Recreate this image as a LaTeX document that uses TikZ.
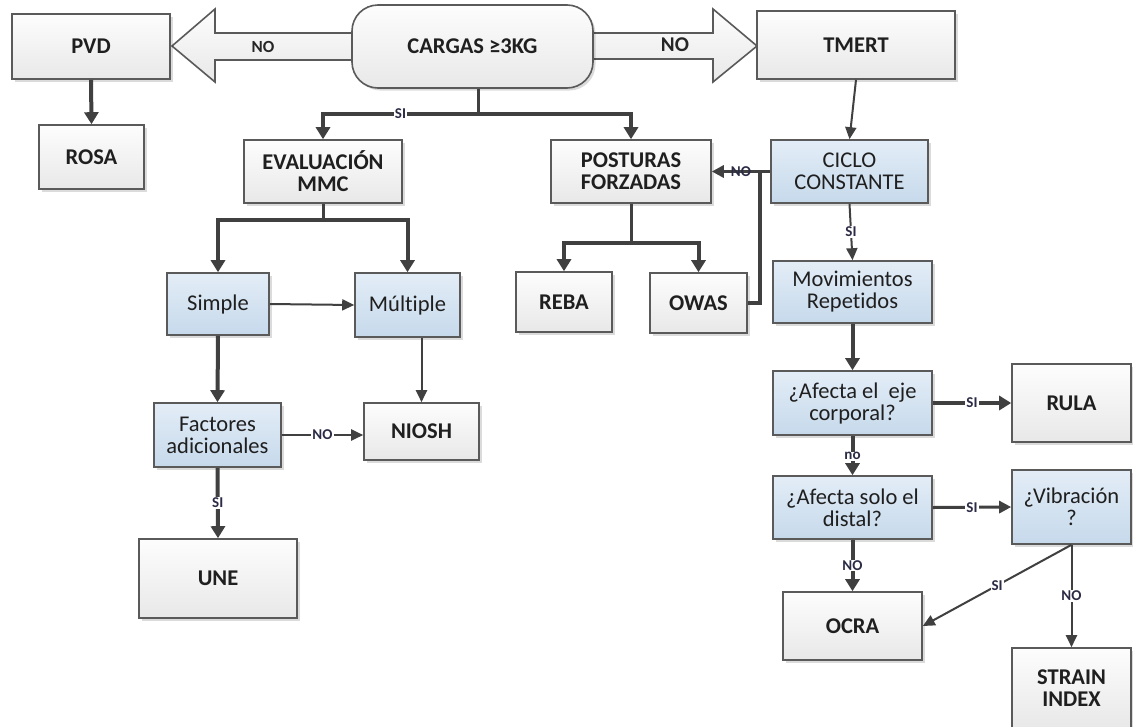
\documentclass[tikz,border=0pt]{standalone}
\usepackage{fontspec}
\setmainfont[Ligatures={NoCommon}]{Carlito}
\usetikzlibrary{arrows.meta,shadows}
\definecolor{ln}{HTML}{404040}
\definecolor{bd}{HTML}{5A5A5A}
\definecolor{gtop}{HTML}{FDFDFD}
\definecolor{gbot}{HTML}{E8E8E8}
\definecolor{btop}{HTML}{E3EDF7}
\definecolor{bbot}{HTML}{C6D9EB}
\definecolor{lbl}{HTML}{2B2B45}
\tikzset{
 box/.style={draw=bd, line width=1.6pt, top color=gtop, bottom color=gbot,
   font=\fontsize{22.5}{22}\selectfont\bfseries, text=black!88, align=center, inner sep=2pt,
   drop shadow={shadow xshift=2.5pt,shadow yshift=-2.5pt,opacity=0.14,fill=black}},
 bbox/.style={box, top color=btop, bottom color=bbot, font=\fontsize{22.5}{22}\selectfont},
 thk/.style={draw=ln, line width=4pt, -{Triangle[width=14pt,length=12pt]}},
 thn/.style={draw=ln, line width=2pt, -{Triangle[width=11pt,length=12pt]}},
 mdarr/.style={draw=ln, line width=3pt, -{Triangle[width=12pt,length=12pt]}},
 thkline/.style={draw=ln, line width=4pt},
 mdline/.style={draw=ln, line width=3pt},
 lab/.style={font=\fontsize{15}{15}\selectfont\bfseries, text=lbl, fill=white, inner sep=1pt},
 bigarrow/.style={draw=bd, line width=1.6pt, top color=gtop, bottom color=gbot},
}
\begin{document}
\begin{tikzpicture}[x=1pt,y=-1pt]
\useasboundingbox (0,0) rectangle (1133,726);
\clip (0,0) rectangle (1133,726);
\fill[white] (0,0) rectangle (1133,726);
% block arrows
\draw[bigarrow] (352,33) -- (215,33) -- (215,9) -- (172,46) -- (215,82) -- (215,60) -- (352,60) -- cycle;
\draw[bigarrow] (593,33) -- (713,33) -- (713,9) -- (757,46) -- (713,82) -- (713,59) -- (593,59) -- cycle;
\node[font=\fontsize{17}{17}\selectfont\bfseries, text=black!85] (noL) at (263,47) {NO};
\node[font=\fontsize{21}{21}\selectfont\bfseries, text=black!85] (noR) at (675,45) {NO};
% nodes
\node[box, minimum width=158pt, minimum height=65pt] (PVD) at (91,46.5) {PVD};
\node[box, minimum width=105pt, minimum height=64pt] (ROSA) at (91.5,157) {ROSA};
\node[box, rounded corners=26pt, minimum width=241pt, minimum height=83pt] (CARGAS) at (472.5,46.5) {CARGAS ≥3KG};
\node[box, minimum width=198pt, minimum height=68pt] (TMERT) at (856,45) {TMERT};
\node[box, minimum width=158pt, minimum height=63pt] (EVAL) at (323,171.5) {EVALUACIÓN\\MMC};
\node[box, minimum width=160pt, minimum height=63pt] (POST) at (631,171.5) {POSTURAS\\FORZADAS};
\node[bbox, minimum width=157pt, minimum height=63pt] (CICLO) at (849.5,171.5) {CICLO\\CONSTANTE};
\node[bbox, minimum width=102pt, minimum height=62pt] (SIMPLE) at (218,304) {Simple};
\node[bbox, minimum width=105pt, minimum height=64pt] (MULT) at (407.5,305) {Múltiple};
\node[box, minimum width=96pt, minimum height=60pt] (REBA) at (564,302) {REBA};
\node[box, minimum width=97pt, minimum height=60pt] (OWAS) at (698.5,303) {OWAS};
\node[bbox, minimum width=159pt, minimum height=62pt] (MOV) at (852.5,292) {Movimientos\\Repetidos};
\node[bbox, minimum width=159pt, minimum height=64pt] (EJE) at (852.5,403) {¿Afecta el\ \ eje\\corporal?};
\node[box, minimum width=119pt, minimum height=78pt] (RULA) at (1071.5,403) {RULA};
\node[bbox, minimum width=159pt, minimum height=63pt] (DIST) at (852.5,507.5) {¿Afecta solo el\\distal?};
\node[bbox, minimum width=119pt, minimum height=74pt] (VIB) at (1071.5,507) {¿Vibración\\?};
\node[box, minimum width=139pt, minimum height=68pt] (OCRA) at (852.5,626) {OCRA};
\node[box, minimum width=119pt, minimum height=80pt] (STRAIN) at (1071.5,688) {STRAIN\\INDEX};
\node[bbox, minimum width=127pt, minimum height=64pt] (FACT) at (217.5,435) {Factores\\adicionales};
\node[box, minimum width=115pt, minimum height=57pt] (NIOSH) at (421.5,431.5) {NIOSH};
\node[box, minimum width=158pt, minimum height=79pt] (UNE) at (218,578.5) {UNE};
% coordinates
\coordinate (cs) at (478,114);
\coordinate (es) at (323,220);
\coordinate (ps) at (631,243);
\coordinate (jn) at (760,172);
% connectors
\draw[thk] (PVD.south) -- (ROSA.north);
\draw[mdline] (CARGAS.south -| cs) -- (cs);
\draw[thk] (cs) -| (EVAL.north) node[lab, pos=0.25] {SI};
\draw[thk] (cs) -| (POST.north);
\draw[thn] (TMERT.south) -- (CICLO.north);
\draw[mdline] (EVAL.south) -- (es);
\draw[thk] (es) -| (SIMPLE.north);
\draw[thk] (es) -| (MULT.north);
\draw[mdline] (POST.south) -- (ps);
\draw[thk] (ps) -| (REBA.north);
\draw[thk] (ps) -| (OWAS.north);
\draw[thkline] (OWAS.east) -| (jn);
\draw[mdarr] (CICLO.west) -- (POST.east) node[lab, fill=none, pos=0.5] {NO};
\draw[thn] (SIMPLE.east) -- (MULT.west);
\draw[thk] (SIMPLE.south) -- (FACT.north);
\draw[thn] (MULT.south -| NIOSH.north) -- (NIOSH.north);
\draw[thn] (FACT.east) -- (FACT.east -| NIOSH.west) node[lab, pos=0.5] {NO};
\draw[thk] (FACT.south) -- (UNE.north) node[lab, pos=0.5] {SI};
\draw[thn] (CICLO.south) -- (MOV.north) node[lab, pos=0.5] {SI};
\draw[thk] (MOV.south) -- (EJE.north);
\draw[thk] (EJE.east) -- (RULA.west) node[lab, pos=0.5] {SI};
\draw[thk] (EJE.south) -- (DIST.north) node[lab, pos=0.52] {no};
\draw[mdarr] (DIST.east) -- (VIB.west) node[lab, pos=0.5] {SI};
\draw[thk] (DIST.south) -- (OCRA.north) node[lab, pos=0.5] {NO};
\draw[thn] (VIB.south) -- (OCRA.east) node[lab, pos=0.5] {SI};
\draw[thn] (VIB.south) -- (STRAIN.north) node[lab, pos=0.5] {NO};
\end{tikzpicture}
\end{document}
